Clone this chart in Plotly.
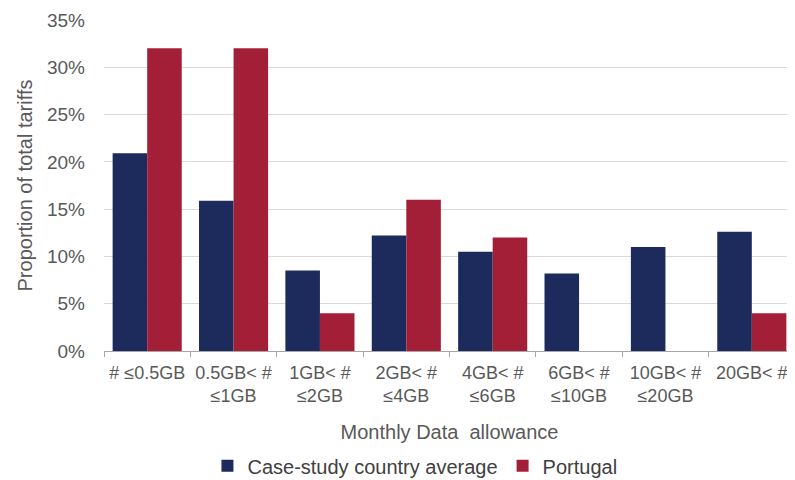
import plotly.graph_objects as go

categories = ["# ≤0.5GB", "0.5GB< #<br>≤1GB", "1GB< #<br>≤2GB", "2GB< #<br>≤4GB",
              "4GB< #<br>≤6GB", "6GB< #<br>≤10GB", "10GB< #<br>≤20GB", "20GB< #"]
case_study_avg = [0.209, 0.159, 0.085, 0.122, 0.105, 0.082, 0.110, 0.126]
portugal = [0.32, 0.32, 0.04, 0.16, 0.12, 0.0, 0.0, 0.04]
y_ticks = [0, 0.05, 0.10, 0.15, 0.20, 0.25, 0.30, 0.35]

NAVY = "#1d2a5c"
RED = "#a31f38"
GRAY = "#595959"
FONT = "Liberation Sans, Arial, sans-serif"

fig = go.Figure()
fig.add_trace(go.Bar(x=categories, y=case_study_avg, name="Case-study country average",
                     marker=dict(color=NAVY, line=dict(width=0))))
fig.add_trace(go.Bar(x=categories, y=portugal, name="Portugal",
                     marker=dict(color=RED, line=dict(width=0))))

# page body has an 8px default margin, so the figure is sized to fit the window
fig.update_layout(
    width=787, height=472,
    margin=dict(l=96, r=0, t=12, b=129, autoexpand=False),
    paper_bgcolor="white", plot_bgcolor="white",
    barmode="group", bargap=0.2, bargroupgap=0,
    font=dict(family=FONT, color=GRAY, size=14),
    legend=dict(orientation="h", x=0.45, xanchor="center", y=-0.347, yanchor="middle",
                font=dict(size=20, color="#404040"), traceorder="normal",
                itemwidth=30),
    showlegend=True,
)
fig.update_xaxes(
    type="category", tickson="boundaries", ticks="outside", ticklen=5,
    tickcolor="#a6a6a6", showline=True, linecolor="#a6a6a6", linewidth=1,
    showgrid=False, tickfont=dict(size=18, color=GRAY), automargin=False,
    ticklabelstandoff=5,
    title=dict(text="Monthly Data  allowance", font=dict(size=20, color=GRAY), standoff=19),
)
fig.update_yaxes(
    range=[0, 0.35], tickvals=y_ticks, tickformat=".0%",
    showgrid=True, gridcolor="#d9d9d9", gridwidth=1, zeroline=False, showline=False,
    tickfont=dict(size=19, color=GRAY), ticks="", automargin=False,
    ticklabelstandoff=18,
    title=dict(text="Proportion of total tariffs", font=dict(size=20, color=GRAY), standoff=8),
)

fig.write_html("out.html")
